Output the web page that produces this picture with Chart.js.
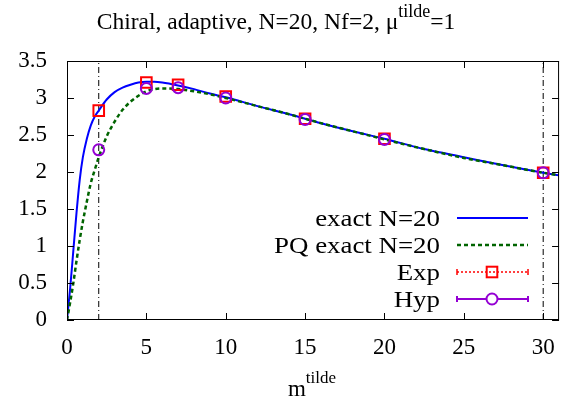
<!DOCTYPE html>
<html>
<head>
<meta charset="utf-8">
<script src="https://cdn.jsdelivr.net/npm/chart.js@4"></script>
<style>
  html, body { margin: 0; padding: 0; background: #fff; }
  #wrap { width: 569px; height: 401px; }
</style>
</head>
<body>
<div id="wrap"><canvas id="myChart" width="569" height="401"></canvas></div>
<script>
// curve grid (m tilde) and the two exact curves
const xGrid   = [0, 0.2, 0.4, 0.6, 0.8, 1.0, 1.25, 1.5, 1.75, 2, 2.5, 3, 3.5, 4, 4.5, 5, 5.5, 6, 7, 8, 9, 10, 12, 14, 16, 18, 20, 22.5, 25, 27.5, 30, 31];
const exactN20 = [0, 0.43, 0.94, 1.45, 1.89, 2.2, 2.45, 2.63, 2.75, 2.83, 2.98, 3.08, 3.14, 3.18, 3.21, 3.22, 3.22, 3.21, 3.17, 3.12, 3.06, 3.01, 2.89, 2.78, 2.66, 2.55, 2.45, 2.31, 2.2, 2.09, 1.99, 1.955];
const pqExactN20 = [0, 0.24, 0.5, 0.8, 1.08, 1.33, 1.6, 1.85, 2.03, 2.2, 2.48, 2.68, 2.84, 2.95, 3.03, 3.09, 3.12, 3.13, 3.12, 3.09, 3.05, 3.0, 2.89, 2.78, 2.66, 2.55, 2.44, 2.31, 2.19, 2.09, 1.99, 1.955];

// sampled points
const xPts   = [2, 5, 7, 10, 15, 20, 30];
const expPts = [2.83, 3.21, 3.18, 3.02, 2.72, 2.45, 1.99];
const hypPts = [2.30, 3.13, 3.14, 3.0, 2.71, 2.44, 1.99];

// vertical markers
const vLines = [2, 30];

const xTicks = [0, 5, 10, 15, 20, 25, 30];
const yMin = 0, yMax = 3.5, yStep = 0.5;
const xMin = 0, xMax = 31;

const FONT = '"Liberation Serif", "Times New Roman", serif';
const BLUE = '#0000ff';
const GREEN = '#006400';
const RED = '#ff0000';
const PURPLE = '#9400d3';

const pairs = (xs, ys) => xs.map((x, i) => ({ x: x, y: ys[i] }));

const datasets = [
  {
    label: 'exact N=20',
    data: pairs(xGrid, exactN20),
    borderColor: BLUE, borderWidth: 2, pointRadius: 0,
    cubicInterpolationMode: 'monotone', order: 3
  },
  {
    label: 'PQ exact N=20',
    data: pairs(xGrid, pqExactN20),
    borderColor: GREEN, borderWidth: 2.5, borderDash: [4, 3], pointRadius: 0,
    cubicInterpolationMode: 'monotone', order: 2
  },
  {
    label: 'Exp',
    data: pairs(xPts, expPts),
    showLine: false, pointStyle: 'rect', pointRadius: 7.5,
    pointBorderColor: RED, pointBackgroundColor: 'rgba(0,0,0,0)', pointBorderWidth: 2,
    order: 1
  },
  {
    label: 'Hyp',
    data: pairs(xPts, hypPts),
    showLine: false, pointStyle: 'circle', pointRadius: 5.5,
    pointBorderColor: PURPLE, pointBackgroundColor: 'rgba(0,0,0,0)', pointBorderWidth: 2,
    order: 0
  }
];
vLines.forEach(function (v) {
  datasets.push({
    label: 'v' + v,
    data: [{ x: v, y: yMin }, { x: v, y: yMax }],
    borderColor: '#000', borderWidth: 1, borderDash: [6, 3, 1, 3], pointRadius: 0,
    order: 4
  });
});

// text with a superscript part, centred on cx
const drawSup = function (ctx, base, sup, after, cx, y, size, rise) {
  const supSize = Math.round(size * 0.75);
  ctx.font = size + 'px ' + FONT;
  const w1 = ctx.measureText(base).width;
  const w3 = ctx.measureText(after).width;
  ctx.font = supSize + 'px ' + FONT;
  const w2 = ctx.measureText(sup).width;
  let x = cx - (w1 + w2 + w3) / 2;
  ctx.textAlign = 'left';
  ctx.textBaseline = 'alphabetic';
  ctx.font = size + 'px ' + FONT;
  ctx.fillText(base, x, y);
  x += w1;
  ctx.font = supSize + 'px ' + FONT;
  ctx.fillText(sup, x, y - rise);
  x += w2;
  ctx.font = size + 'px ' + FONT;
  ctx.fillText(after, x, y);
};

const gnuplotFrame = {
  id: 'gnuplotFrame',
  afterDraw: function (chart) {
    const ctx = chart.ctx;
    const a = chart.chartArea;
    const xs = chart.scales.x, ys = chart.scales.y;
    ctx.save();
    ctx.strokeStyle = '#000';
    ctx.lineWidth = 1;
    ctx.setLineDash([]);
    ctx.strokeRect(a.left + 0.5, a.top + 0.5, a.right - a.left - 1, a.bottom - a.top - 1);
    const tl = 7;
    ctx.beginPath();
    xTicks.forEach(function (v) {
      const px = Math.round(xs.getPixelForValue(v)) + 0.5;
      ctx.moveTo(px, a.bottom); ctx.lineTo(px, a.bottom - tl);
      ctx.moveTo(px, a.top); ctx.lineTo(px, a.top + tl);
    });
    for (let v = yMin; v <= yMax + 1e-9; v += yStep) {
      const py = Math.round(ys.getPixelForValue(v)) + 0.5;
      ctx.moveTo(a.left, py); ctx.lineTo(a.left + tl, py);
      ctx.moveTo(a.right, py); ctx.lineTo(a.right - tl, py);
    }
    ctx.stroke();

    ctx.fillStyle = '#000';
    drawSup(ctx, 'Chiral, adaptive, N=20, Nf=2, \u03bc', 'tilde', '=1', 276, 29, 23.5, 12);
    drawSup(ctx, 'm', 'tilde', '', 312, 396, 23, 13);

    // legend
    const textRight = 440, x0 = 457, x1 = 528, xm = 492;
    const rows = [218, 245, 272, 299];
    const names = ['exact N=20', 'PQ exact N=20', 'Exp', 'Hyp'];
    ctx.font = '24px ' + FONT;
    ctx.textAlign = 'right';
    ctx.textBaseline = 'alphabetic';
    names.forEach(function (n, i) {
      ctx.save();
      ctx.translate(textRight, rows[i] + 8);
      ctx.scale(1.12, 1);
      ctx.fillText(n, 0, 0);
      ctx.restore();
    });

    ctx.lineWidth = 2;
    ctx.strokeStyle = BLUE;
    ctx.beginPath(); ctx.moveTo(x0, rows[0]); ctx.lineTo(x1, rows[0]); ctx.stroke();

    ctx.strokeStyle = GREEN; ctx.lineWidth = 2.5; ctx.setLineDash([4, 3]);
    ctx.beginPath(); ctx.moveTo(x0, rows[1]); ctx.lineTo(x1, rows[1]); ctx.stroke();

    ctx.strokeStyle = RED; ctx.lineWidth = 1.5; ctx.setLineDash([2, 2]);
    ctx.beginPath(); ctx.moveTo(x0, rows[2]); ctx.lineTo(x1, rows[2]); ctx.stroke();
    ctx.setLineDash([]);
    ctx.beginPath();
    ctx.moveTo(x0, rows[2] - 3); ctx.lineTo(x0, rows[2] + 3);
    ctx.moveTo(x1, rows[2] - 3); ctx.lineTo(x1, rows[2] + 3);
    ctx.stroke();
    ctx.lineWidth = 2;
    ctx.strokeRect(xm - 5.3, rows[2] - 5.3, 10.6, 10.6);

    ctx.strokeStyle = PURPLE; ctx.lineWidth = 2;
    ctx.beginPath();
    ctx.moveTo(x0, rows[3]); ctx.lineTo(xm - 5.5, rows[3]);
    ctx.moveTo(xm + 5.5, rows[3]); ctx.lineTo(x1, rows[3]);
    ctx.moveTo(x0, rows[3] - 3); ctx.lineTo(x0, rows[3] + 3);
    ctx.moveTo(x1, rows[3] - 3); ctx.lineTo(x1, rows[3] + 3);
    ctx.stroke();
    ctx.beginPath(); ctx.arc(xm, rows[3], 5.5, 0, Math.PI * 2); ctx.stroke();
    ctx.restore();
  }
};

const ctx1 = document.getElementById('myChart').getContext('2d');
const myChart = new Chart(ctx1, {
  type: 'line',
  data: { datasets: datasets },
  options: {
    responsive: false,
    animation: false,
    layout: { padding: { top: 61, right: 9, left: 0, bottom: 0 } },
    plugins: { legend: { display: false }, title: { display: false }, tooltip: { enabled: false } },
    scales: {
      x: {
        type: 'linear', min: xMin, max: xMax,
        afterFit: function (s) { s.height = 81; },
        afterBuildTicks: function (s) { s.ticks = xTicks.map(function (v) { return { value: v }; }); },
        grid: { display: false, drawTicks: false },
        border: { display: false },
        ticks: { color: '#000', font: { family: FONT, size: 23 }, padding: 14, maxRotation: 0 }
      },
      y: {
        type: 'linear', min: yMin, max: yMax,
        afterFit: function (s) { s.width = 67; },
        grid: { display: false, drawTicks: false },
        border: { display: false },
        ticks: {
          color: '#000', font: { family: FONT, size: 23 }, padding: 20, stepSize: yStep,
          callback: function (v) { return String(v); }
        }
      }
    }
  },
  plugins: [gnuplotFrame]
});
</script>
</body>
</html>
